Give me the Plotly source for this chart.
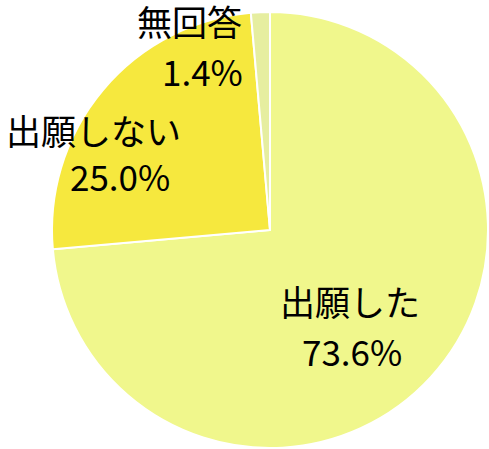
import plotly.graph_objects as go

labels = ["出願した", "出願しない", "無回答"]
values = [73.6, 25.0, 1.4]
colors = ["#f0f78c", "#f6e83e", "#e6eea0"]

W, H = 489, 449
fig = go.Figure(go.Pie(
    labels=labels, values=values, sort=False, direction="clockwise", rotation=0,
    marker=dict(colors=colors, line=dict(color="white", width=2)),
    textinfo="none", hoverinfo="label+percent", showlegend=False,
    domain=dict(x=[52 / W, 488 / W], y=[1 - 448 / H, 1 - 12 / H]),
))

# label positions (pixel centers) for name and percentage lines
pos = {
    "出願した": ((350, 300), (352, 350)),
    "出願しない": ((93, 130), (120, 176)),
    "無回答": ((189, None), (202, 70)),
}
font = dict(family="Noto Sans CJK JP", size=35, color="black")
anns = []
for lab, val in zip(labels, values):
    (nx, ny), (vx, vy) = pos[lab]
    if ny is None:
        anns.append(dict(text=lab, x=nx / W, y=1, xref="paper", yref="paper",
                         showarrow=False, font=font, xanchor="center", yanchor="top",
                         borderpad=0, height=38, valign="middle"))
    else:
        anns.append(dict(text=lab, x=nx / W, y=1 - ny / H, xref="paper", yref="paper",
                         showarrow=False, font=font, xanchor="center", yanchor="middle"))
    anns.append(dict(text=f"{val:.1f}%", x=vx / W, y=1 - vy / H, xref="paper", yref="paper",
                     showarrow=False, font=font, xanchor="center", yanchor="middle"))

fig.update_layout(width=W, height=H, margin=dict(l=0, r=0, t=0, b=0),
                  paper_bgcolor="white", plot_bgcolor="white", annotations=anns)
fig.write_html("out.html", config={"displayModeBar": False},
               post_script="document.body.style.margin='0';document.body.style.overflow='hidden';")
